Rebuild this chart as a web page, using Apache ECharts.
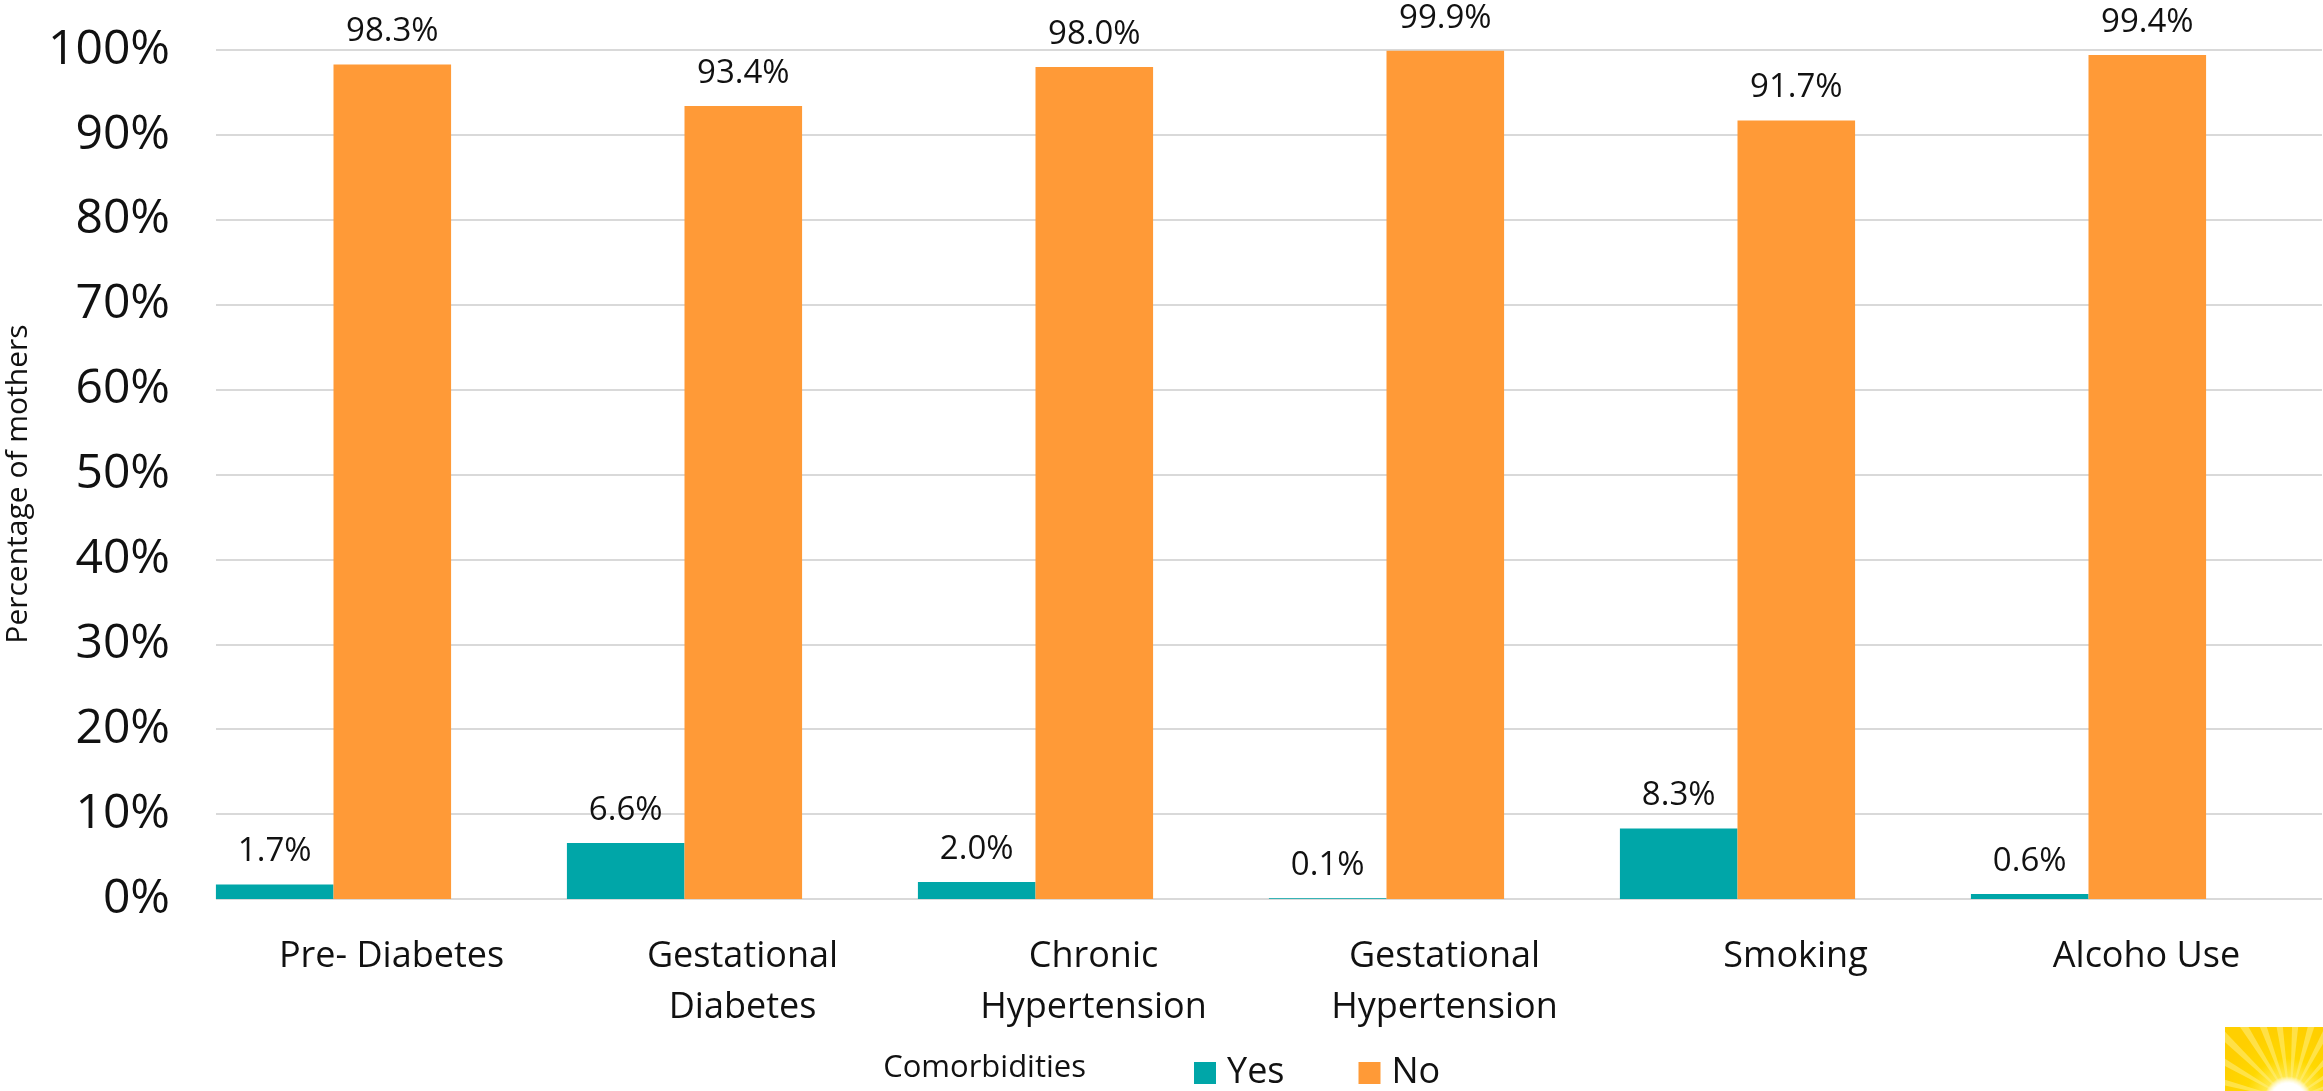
<!DOCTYPE html>
<html>
<head>
<meta charset="utf-8">
<title>Comorbidities among mothers</title>
<script src="https://cdn.jsdelivr.net/npm/echarts@6/dist/echarts.min.js"></script>
<style>
  html, body { margin: 0; padding: 0; background: #ffffff; }
  #chart { width: 2323px; height: 1091px; }
</style>
</head>
<body>
<div id="chart"></div>
<script>
// Comorbidity categories (x axis)
const categories = [
  'Pre- Diabetes',
  'Gestational\nDiabetes',
  'Chronic\nHypertension',
  'Gestational\nHypertension',
  'Smoking',
  'Alcoho Use'
];
// Percentage of mothers answering Yes / No
const yesValues = [1.7, 6.6, 2.0, 0.1, 8.3, 0.6];
const noValues  = [98.3, 93.4, 98.0, 99.9, 91.7, 99.4];
// Value axis ticks
const yMin = 0, yMax = 100, yStep = 10;

const FONT = '"Open Sans", "Noto Sans", sans-serif';
const TEAL = '#00A6A8';
const ORANGE = '#FF9A37';
const GRID_LINE = '#D9D9D9';

const chart = echarts.init(document.getElementById('chart'), null, { renderer: 'canvas' });

const labelStyle = {
  show: true,
  position: 'top',
  distance: 16,
  fontFamily: FONT,
  fontSize: 33,
  lineHeight: 33,
  color: '#111111',
  formatter: p => p.value.toFixed(1) + '%'
};

// Sun badge in the lower right corner
const badge = { x: 2225, y: 1027, w: 98, h: 64 };
const sunCx = 2290, sunCy = 1100;
// point where a ray from the sun centre leaves the badge
function rayEnd(deg) {
  const a = deg * Math.PI / 180;
  const dx = Math.cos(a), dy = Math.sin(a);
  let t = Infinity;
  if (dy < 0) t = Math.min(t, (badge.y - sunCy) / dy);
  if (dx < 0) t = Math.min(t, (badge.x - sunCx) / dx);
  if (dx > 0) t = Math.min(t, (badge.x + badge.w - sunCx) / dx);
  return [sunCx + t * dx, sunCy + t * dy];
}
const rayAngles = [-165, -150, -136, -122, -110, -98, -86, -74, -62, -48, -34, -20];
const rays = rayAngles.map(a => ({
  type: 'polygon',
  z: 101,
  shape: { points: [[sunCx, sunCy], rayEnd(a - 2.4), rayEnd(a + 2.4)] },
  style: { fill: 'rgba(255, 238, 130, 0.55)' },
  silent: true
}));

const option = {
  backgroundColor: '#ffffff',
  animation: false,
  grid: [
    // grid 0: gridlines, value ticks and category names
    { left: 216, right: 1, top: 50, bottom: 192 },
    // grid 1: the bars
    { left: 158, right: 59, top: 50, bottom: 192 }
  ],
  xAxis: [
    {
      type: 'category',
      gridIndex: 0,
      data: categories,
      axisLine: { show: false },
      axisTick: { show: false },
      axisLabel: {
        interval: 0,
        margin: 32,
        fontFamily: FONT,
        fontSize: 36,
        lineHeight: 51,
        color: '#111111',
        align: 'center'
      }
    },
    {
      type: 'category',
      gridIndex: 1,
      data: categories,
      show: false
    }
  ],
  yAxis: [
    {
      type: 'value',
      gridIndex: 0,
      min: yMin,
      max: yMax,
      interval: yStep,
      axisLine: { show: false },
      axisTick: { show: false },
      splitLine: { show: true, lineStyle: { color: GRID_LINE, width: 2 } },
      axisLabel: {
        margin: 46,
        fontFamily: FONT,
        fontSize: 48,
        color: '#111111',
        formatter: '{value}%'
      }
    },
    {
      type: 'value',
      gridIndex: 1,
      min: yMin,
      max: yMax,
      interval: yStep,
      show: false,
      splitLine: { show: false }
    }
  ],
  legend: {
    data: ['Yes', 'No'],
    left: 1189,
    top: 1050,
    itemWidth: 22,
    itemHeight: 22,
    itemGap: 74,
    icon: 'rect',
    textStyle: {
      fontFamily: FONT,
      fontSize: 36,
      lineHeight: 36,
      color: '#111111',
      padding: [0, 0, 0, 6]
    }
  },
  series: [
    {
      name: 'Yes',
      type: 'bar',
      xAxisIndex: 1,
      yAxisIndex: 1,
      data: yesValues,
      barGap: '0%',
      barCategoryGap: '33%',
      itemStyle: { color: TEAL },
      label: labelStyle
    },
    {
      name: 'No',
      type: 'bar',
      xAxisIndex: 1,
      yAxisIndex: 1,
      data: noValues,
      barGap: '0%',
      barCategoryGap: '33%',
      itemStyle: { color: ORANGE },
      label: labelStyle
    }
  ],
  graphic: [
    {
      type: 'text',
      x: 18,
      y: 484,
      rotation: Math.PI / 2,
      style: {
        text: 'Percentage of mothers',
        fontFamily: FONT,
        fontSize: 30,
        fill: '#111111',
        align: 'center',
        verticalAlign: 'middle'
      }
    },
    {
      type: 'text',
      x: 1086,
      y: 1068,
      style: {
        text: 'Comorbidities',
        fontFamily: FONT,
        fontSize: 31,
        fill: '#111111',
        align: 'right',
        verticalAlign: 'middle'
      }
    },
    {
      type: 'rect',
      z: 100,
      shape: { x: badge.x, y: badge.y, width: badge.w, height: badge.h },
      style: {
        fill: {
          type: 'radial',
          x: 0.64, y: 1.15, r: 1.1,
          colorStops: [
            { offset: 0, color: '#FFFFFF' },
            { offset: 0.22, color: '#FFFBE0' },
            { offset: 0.34, color: '#FFE84A' },
            { offset: 0.6, color: '#FFD800' },
            { offset: 1, color: '#FFCF00' }
          ]
        }
      },
      silent: true
    }
  ].concat(rays).concat([
    {
      type: 'circle',
      z: 102,
      shape: { cx: 2288, cy: 1100, r: 24 },
      style: {
        fill: {
          type: 'radial', x: 0.5, y: 0.5, r: 0.5,
          colorStops: [
            { offset: 0, color: '#FFFFFF' },
            { offset: 0.7, color: '#FFFFFF' },
            { offset: 1, color: 'rgba(255,255,255,0)' }
          ]
        }
      },
      silent: true
    }
  ])
};

chart.setOption(option);
</script>
</body>
</html>
